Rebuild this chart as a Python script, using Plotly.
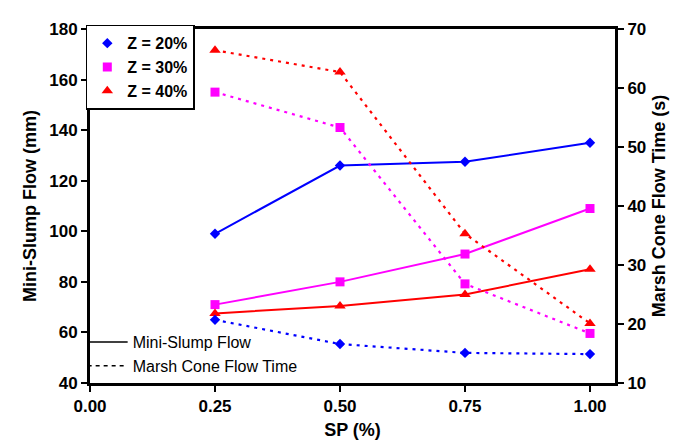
import plotly.graph_objects as go

sp = [0.25, 0.50, 0.75, 1.00]
series_names = ["Z = 20%", "Z = 30%", "Z = 40%"]
slump_20 = [99, 126, 127.5, 135]
slump_30 = [71, 80, 91, 109]
slump_40 = [67.5, 70.5, 75, 85]
marsh_20 = [20.7, 16.6, 15.1, 14.9]
marsh_30 = [59.3, 53.3, 26.8, 18.4]
marsh_40 = [66.4, 62.7, 35.3, 20.1]
x_ticks = [0.0, 0.25, 0.5, 0.75, 1.0]
x_tick_labels = ["0.00", "0.25", "0.50", "0.75", "1.00"]

colors = ["#0000FF", "#FF00FF", "#FF0000"]
symbols = ["diamond", "square", "triangle-up"]
sizes = [8, 9, 10]
slumps = [slump_20, slump_30, slump_40]
marshes = [marsh_20, marsh_30, marsh_40]

FONT = "Liberation Sans, Arial, sans-serif"
fig = go.Figure()

for name, c, s, sz, sl, ma in zip(series_names, colors, symbols, sizes, slumps, marshes):
    fig.add_trace(go.Scatter(x=sp, y=sl, mode="lines+markers", line=dict(color=c, width=2),
                             marker=dict(symbol=s, size=sz, color=c), showlegend=False))
    fig.add_trace(go.Scatter(x=sp, y=ma, yaxis="y2", mode="lines+markers",
                             line=dict(color=c, width=2.2, dash="3px,5px"),
                             marker=dict(symbol=s, size=sz, color=c), showlegend=False))

# legend 1: markers only
for name, c, s, sz in zip(series_names, colors, symbols, sizes):
    fig.add_trace(go.Scatter(x=[None], y=[None], mode="markers", name=name,
                             marker=dict(symbol=s, size=sz, color=c), legend="legend"))

# legend 2: line styles
fig.add_trace(go.Scatter(x=[None], y=[None], mode="lines", name="Mini-Slump Flow",
                         line=dict(color="black", width=1.5), legend="legend2"))
fig.add_trace(go.Scatter(x=[None], y=[None], mode="lines", name="Marsh Cone Flow Time",
                         line=dict(color="black", width=1.5, dash="4px,4px"), legend="legend2"))

axis_common = dict(showgrid=False, zeroline=False, showline=True, linecolor="black", linewidth=3,
                   ticks="outside", ticklen=6, tickwidth=2, tickcolor="black",
                   tickfont=dict(family=FONT, size=17, color="black", weight="bold"))

fig.update_layout(
    width=686, height=441,
    margin=dict(l=82, r=79, t=19, b=58),
    plot_bgcolor="white", paper_bgcolor="white",
    font=dict(family=FONT, color="black"),
    xaxis=dict(range=[0, 1.05], tickvals=x_ticks, ticktext=x_tick_labels, mirror=True,
               title=dict(text="SP (%)", font=dict(family=FONT, size=18, weight="bold"), standoff=8),
               **axis_common),
    yaxis=dict(range=[40, 180], dtick=20,
               title=dict(text="Mini-Slump Flow (mm)", font=dict(family=FONT, size=18, weight="bold"), standoff=8),
               **axis_common),
    yaxis2=dict(range=[10, 70], dtick=10, overlaying="y", side="right",
                title=dict(text="Marsh Cone Flow Time (s)", font=dict(family=FONT, size=18, weight="bold"), standoff=8),
                **axis_common),
    legend=dict(x=-0.008, y=1.012, xanchor="left", yanchor="top", xref="paper", yref="paper",
                bgcolor="white", bordercolor="black", borderwidth=1.5,
                font=dict(family=FONT, size=16, color="black", weight="bold"),
                itemwidth=30, tracegroupgap=0),
    legend2=dict(x=-0.014, y=0.0, xanchor="left", yanchor="bottom", xref="paper", yref="paper",
                 bgcolor="rgba(0,0,0,0)", borderwidth=0,
                 font=dict(family=FONT, size=16, color="black"),
                 itemwidth=40, tracegroupgap=0),
)

fig.write_html("out.html")
